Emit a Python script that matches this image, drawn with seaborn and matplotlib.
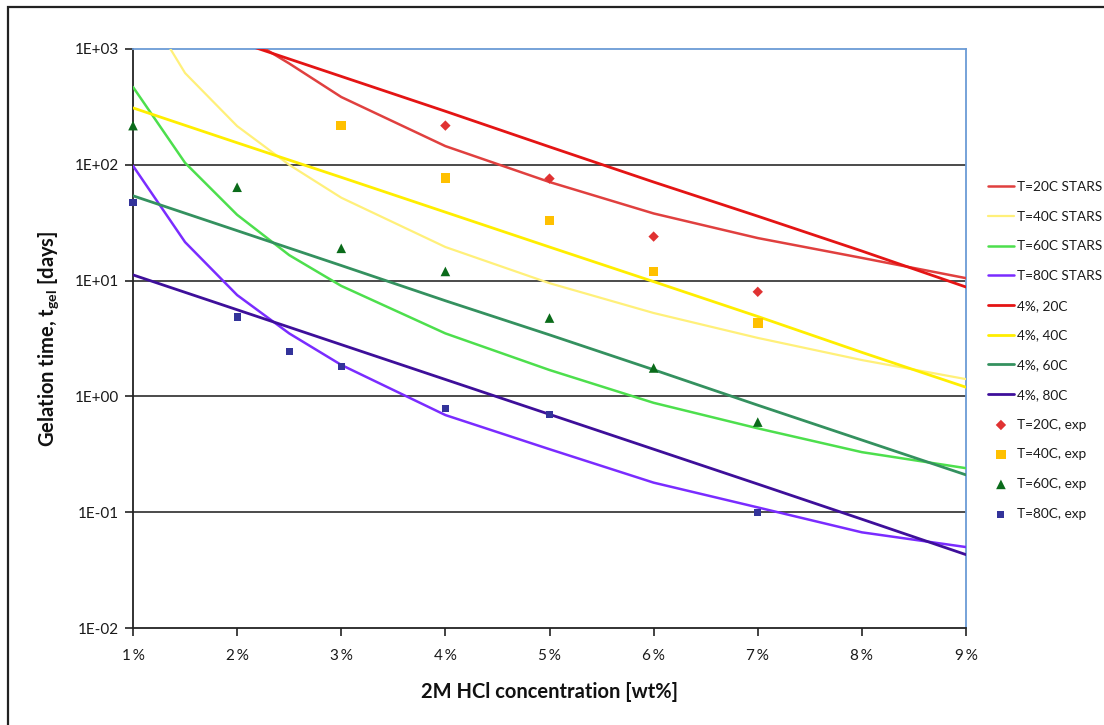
import numpy as np
import pandas as pd
import matplotlib
matplotlib.use("Agg")
import matplotlib.pyplot as plt
from matplotlib.patches import Rectangle
from matplotlib.ticker import FixedLocator, NullLocator
import seaborn as sns

# HCl concentration grid (wt%)
conc_stars = [1.0, 1.5, 2.0, 2.5, 3.0, 4.0, 5.0, 6.0, 7.0, 8.0, 9.0]
conc_fit = [1, 2, 3, 4, 5, 6, 7, 8, 9]

# Simulated gelation times (days)
stars_20 = [4000, 2500, 1400, 750, 385, 145, 71, 38, 23.3, 15.7, 10.5]
stars_40 = [3400, 620, 216, 100, 52, 19.5, 9.5, 5.25, 3.2, 2.06, 1.41]
stars_60 = [470, 104, 37, 16.6, 9.0, 3.5, 1.69, 0.88, 0.53, 0.33, 0.24]
stars_80 = [98, 21.5, 7.5, 3.5, 1.87, 0.69, 0.35, 0.18, 0.11, 0.067, 0.050]

# Exponential fits anchored on the 4% data
fit_20 = [2310, 1160, 580, 290, 143, 71, 36, 18, 8.8]
fit_40 = [310, 155, 78, 39, 19.5, 9.8, 4.9, 2.4, 1.2]
fit_60 = [54, 27, 13.5, 6.7, 3.4, 1.7, 0.84, 0.42, 0.21]
fit_80 = [11.2, 5.6, 2.8, 1.4, 0.70, 0.35, 0.175, 0.087, 0.043]

# Experimental measurements
exp_20_x = [4, 5, 6, 7]
exp_20_y = [218, 76, 24, 8.0]
exp_40_x = [3, 4, 5, 6, 7]
exp_40_y = [218, 77, 33, 12, 4.3]
exp_60_x = [1, 2, 3, 4, 5, 6, 7]
exp_60_y = [218, 64, 19, 12, 4.75, 1.76, 0.60]
exp_80_x = [1, 2, 2.5, 3, 4, 5, 7]
exp_80_y = [47, 4.85, 2.42, 1.8, 0.79, 0.70, 0.10]

x_ticks = [1, 2, 3, 4, 5, 6, 7, 8, 9]
x_tick_labels = ["1\u2009%", "2\u2009%", "3\u2009%", "4\u2009%", "5\u2009%",
                 "6\u2009%", "7\u2009%", "8\u2009%", "9\u2009%"]
y_ticks = [1e-2, 1e-1, 1e0, 1e1, 1e2, 1e3]
y_tick_labels = ["1E-02", "1E-01", "1E+00", "1E+01", "1E+02", "1E+03"]

sns.set_theme(style="white")
plt.rcParams["font.family"] = ["Lato", "DejaVu Sans"]
plt.rcParams["mathtext.fontset"] = "custom"
plt.rcParams["mathtext.rm"] = "Lato"
plt.rcParams["mathtext.bf"] = "Lato:bold"

W, H = 1104, 725
fig = plt.figure(figsize=(W / 100, H / 100), dpi=100)
ax = fig.add_axes([133 / W, 1 - 628 / H, (966 - 133) / W, (628 - 49) / H])

# Outer chart frame
fig.patches.append(Rectangle((8 / W, -0.05), 1.2, 1 - 7 / H + 0.05,
                             transform=fig.transFigure, fill=False,
                             edgecolor="#222222", linewidth=1.6, zorder=0))

line_specs = [
    ("T=20C STARS", conc_stars, stars_20, "#e0403f", 1.8),
    ("T=40C STARS", conc_stars, stars_40, "#fff07a", 1.6),
    ("T=60C STARS", conc_stars, stars_60, "#4ddf4d", 1.8),
    ("T=80C STARS", conc_stars, stars_80, "#7a2cff", 1.8),
    ("4%, 20C", conc_fit, fit_20, "#e41414", 2.0),
    ("4%, 40C", conc_fit, fit_40, "#ffee00", 2.0),
    ("4%, 60C", conc_fit, fit_60, "#34915f", 2.0),
    ("4%, 80C", conc_fit, fit_80, "#3e0f9a", 2.0),
]
for label, xs, ys, color, lw in line_specs:
    df = pd.DataFrame({"x": xs, "y": ys})
    sns.lineplot(data=df, x="x", y="y", ax=ax, color=color, linewidth=lw,
                 label=label, zorder=3)

marker_specs = [
    ("T=20C, exp", exp_20_x, exp_20_y, "#e03232", "D", 28),
    ("T=40C, exp", exp_40_x, exp_40_y, "#ffc000", "s", 48),
    ("T=60C, exp", exp_60_x, exp_60_y, "#0a6b1a", "^", 48),
    ("T=80C, exp", exp_80_x, exp_80_y, "#33339a", "s", 26),
]
for label, xs, ys, color, mk, sz in marker_specs:
    df = pd.DataFrame({"x": xs, "y": ys})
    sns.scatterplot(data=df, x="x", y="y", ax=ax, color=color, marker=mk,
                    s=sz, edgecolor="none", label=label, zorder=4,
                    clip_on=False)

ax.set_yscale("log")
ax.set_xlim(1, 9)
ax.set_ylim(1e-2, 1e3)

ax.xaxis.set_major_locator(FixedLocator(x_ticks))
ax.set_xticklabels(x_tick_labels, family=["Lato", "DejaVu Sans"])
ax.yaxis.set_major_locator(FixedLocator(y_ticks))
ax.yaxis.set_minor_locator(NullLocator())
ax.set_yticklabels(y_tick_labels)
ax.tick_params(axis="both", which="major", direction="out", length=6,
               width=1.2, color="#222222", labelsize=11, labelcolor="#1a1a1a",
               bottom=True, left=True)
ax.tick_params(axis="x", pad=9)
ax.tick_params(axis="y", pad=4)

for y in y_ticks[1:-1]:
    ax.axhline(y, color="#1a1a1a", linewidth=1.1, zorder=1)

for side in ("left", "bottom"):
    ax.spines[side].set_color("#222222")
    ax.spines[side].set_linewidth(1.3)
for side in ("top", "right"):
    ax.spines[side].set_color("#6b9bd6")
    ax.spines[side].set_linewidth(1.3)

ax.set_xlabel("2M HCl concentration [wt%]", fontsize=14.5, fontweight="bold",
              labelpad=14, color="#111111")
ax.set_ylabel(r"Gelation time, t$_{\mathbf{gel}}$ [days]", fontsize=14.5,
              fontweight="bold", labelpad=10, color="#111111")

leg = ax.legend(loc="upper left", bbox_to_anchor=(988 / W, 1 - 181 / H),
                bbox_transform=fig.transFigure, frameon=False,
                fontsize=9.8, handlelength=1.9, handletextpad=0.2,
                labelspacing=1.3, borderaxespad=0, borderpad=0)
for t in leg.get_texts():
    t.set_color("#1a1a1a")

fig.savefig("out.png", dpi=100)
